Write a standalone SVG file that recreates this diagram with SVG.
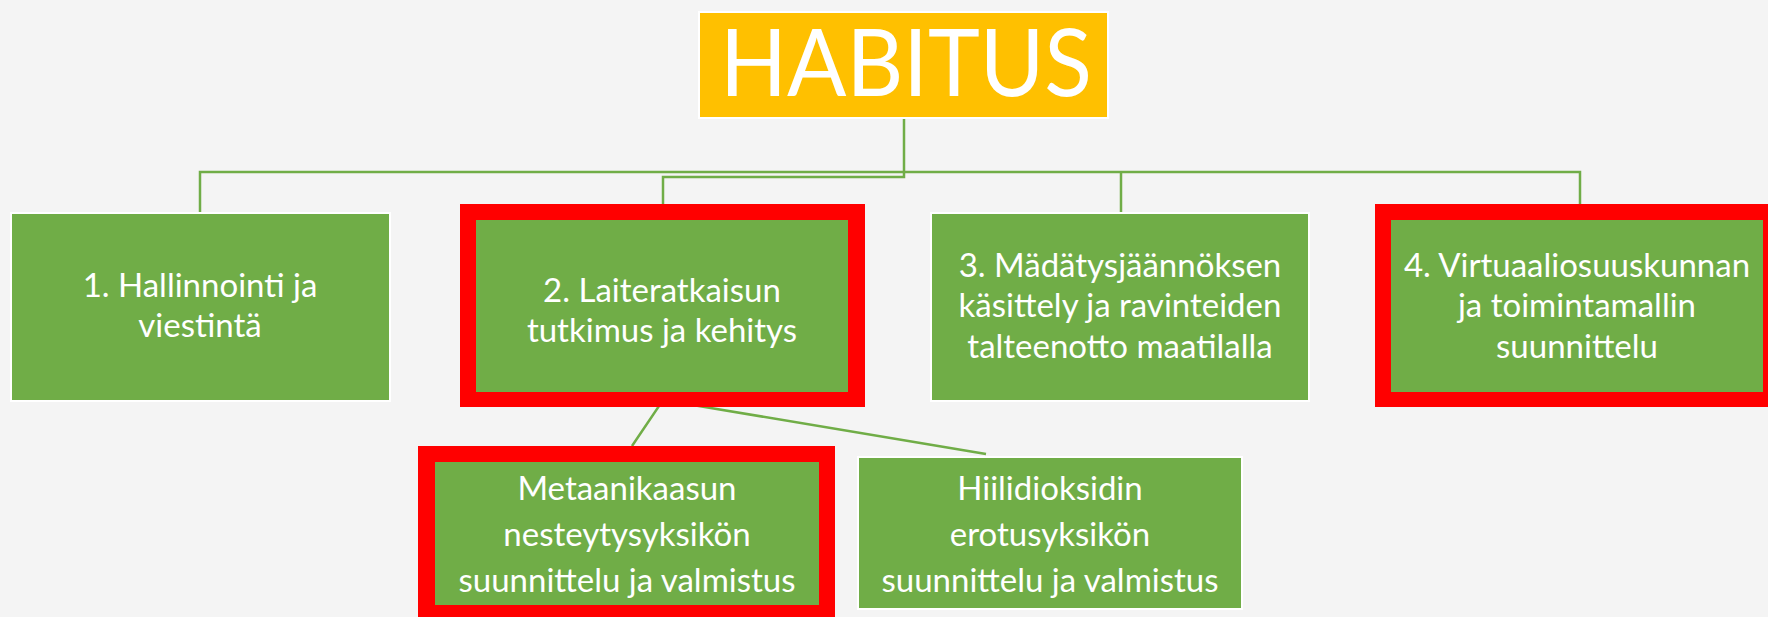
<svg xmlns="http://www.w3.org/2000/svg" width="1768" height="617" viewBox="0 0 1768 617">
<style>
.bg{fill:#F4F4F4}
.g{fill:#70AD47;stroke:#FFFFFF;stroke-width:2}
.r{fill:#FF0000}
.gi{fill:#70AD47}
.c{fill:none;stroke:#70AD47;stroke-width:2.5}
.t{font-family:Lato,"Open Sans","Liberation Sans",sans-serif;font-size:33px;fill:#FFFFFF;text-anchor:middle}
.h{font-family:Lato,"Open Sans","Liberation Sans",sans-serif;font-size:94px;fill:#FFFFFF;text-anchor:middle}
</style>
<rect class="bg" x="0" y="0" width="1768" height="617"/>
<g id="connectors">
<path class="c" d="M200,212 V172 H1580 V204"/>
<path class="c" d="M1121,172 V212"/>
<path class="c" d="M904,118 V177 H663 V204"/>
<path class="c" d="M632,446 L663,400 L986,454"/>
</g>
<g id="habitus">
<rect x="699" y="12" width="409" height="106" fill="#FFC000" stroke="#FFFFFF" stroke-width="2"/>
<text class="h" x="906" y="96" textLength="372" lengthAdjust="spacingAndGlyphs">HABITUS</text>
</g>
<g id="node1">
<rect class="g" x="11" y="213" width="379" height="188"/>
<text class="t" x="200" y="297">1. Hallinnointi ja</text>
<text class="t" x="200" y="337">viestintä</text>
</g>
<g id="node2">
<rect class="r" x="460" y="204" width="405" height="203"/>
<rect class="gi" x="476" y="220" width="372" height="172"/>
<text class="t" x="662" y="302">2. Laiteratkaisun</text>
<text class="t" x="662" y="342">tutkimus ja kehitys</text>
</g>
<g id="node3">
<rect class="g" x="931" y="213" width="378" height="188"/>
<text class="t" x="1120" y="277">3. Mädätysjäännöksen</text>
<text class="t" x="1120" y="317">käsittely ja ravinteiden</text>
<text class="t" x="1120" y="358">talteenotto maatilalla</text>
</g>
<g id="node4">
<rect class="r" x="1375" y="204" width="405" height="203"/>
<rect class="gi" x="1391" y="220" width="372" height="172"/>
<text class="t" x="1577" y="277">4. Virtuaaliosuuskunnan</text>
<text class="t" x="1577" y="317">ja toimintamallin</text>
<text class="t" x="1577" y="358">suunnittelu</text>
</g>
<g id="node2a">
<rect class="r" x="418" y="446" width="417" height="176"/>
<rect class="gi" x="435" y="462" width="384" height="143"/>
<text class="t" x="627" y="500">Metaanikaasun</text>
<text class="t" x="627" y="546">nesteytysyksikön</text>
<text class="t" x="627" y="592">suunnittelu ja valmistus</text>
</g>
<g id="node2b">
<rect class="g" x="858" y="457" width="384" height="152"/>
<text class="t" x="1050" y="500">Hiilidioksidin</text>
<text class="t" x="1050" y="546">erotusyksikön</text>
<text class="t" x="1050" y="592">suunnittelu ja valmistus</text>
</g>
</svg>
